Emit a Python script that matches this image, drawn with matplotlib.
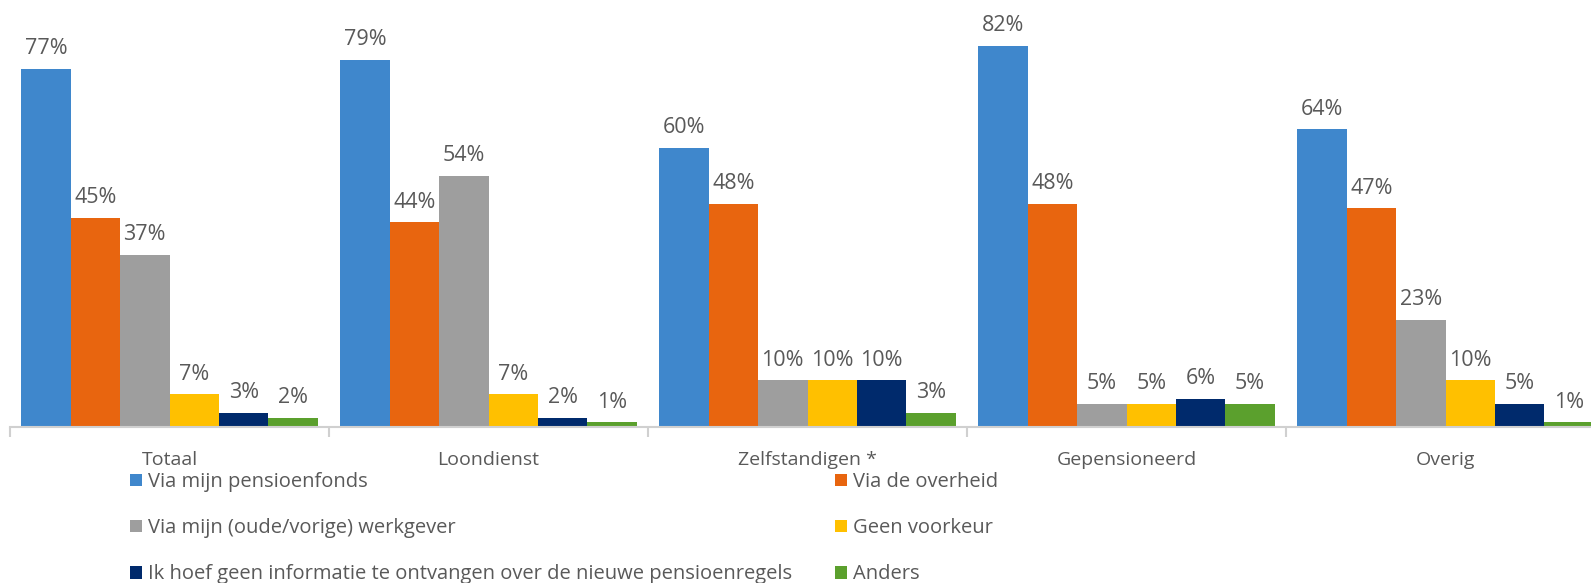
import numpy as np
import matplotlib.pyplot as plt

# Categorieën en reeksen
categorieen = ["Totaal", "Loondienst", "Zelfstandigen *", "Gepensioneerd", "Overig"]
reeksen = [
    "Via mijn pensioenfonds",
    "Via de overheid",
    "Via mijn (oude/vorige) werkgever",
    "Geen voorkeur",
    "Ik hoef geen informatie te ontvangen over de nieuwe pensioenregels",
    "Anders",
]
pensioenfonds = [77, 79, 60, 82, 64]
overheid = [45, 44, 48, 48, 47]
werkgever = [37, 54, 10, 5, 23]
geen_voorkeur = [7, 7, 10, 5, 10]
geen_info = [3, 2, 10, 6, 5]
anders = [2, 1, 3, 5, 1]

waarden = [pensioenfonds, overheid, werkgever, geen_voorkeur, geen_info, anders]
kleuren = ["#3F87CC", "#E8650F", "#9E9E9E", "#FFC000", "#002A6C", "#5BA02D"]

plt.rcParams['font.family'] = ['Open Sans', 'DejaVu Sans']
fig = plt.figure(figsize=(15.91, 5.83), dpi=100)
ax = fig.add_axes([10 / 1591, 156 / 583, 1 - 10 / 1591, 427 / 583])

x = np.arange(len(categorieen))
breedte = 0.155
for i, (vals, kleur, naam) in enumerate(zip(waarden, kleuren, reeksen)):
    pos = x + (i - 2.5) * breedte
    bars = ax.bar(pos, vals, width=breedte, color=kleur, label=naam)
    for b, v in zip(bars, vals):
        ax.annotate(f"{v}%", (b.get_x() + b.get_width() / 2, v),
                    xytext=(0, 7), textcoords="offset points",
                    ha="center", va="bottom", fontsize=15.5, color="#595959")

ax.set_yticks([])
ax.set_xticks(x)
ax.set_xticklabels(categorieen, fontsize=14, color="#595959")
ax.set_xticks(np.arange(-0.5, 5, 1), minor=True)
ax.tick_params(axis="x", which="major", length=0, pad=17)
ax.tick_params(axis="x", which="minor", length=7, color="#D0D0D0", width=1.5)
# grenzen na de ticks, anders worden ze weer opgerekt
ax.set_xlim(-0.5, 4.456)
ax.set_ylim(0, 91.8)
for s in ["top", "right", "left"]:
    ax.spines[s].set_visible(False)
ax.spines["bottom"].set_color("#D0D0D0")
ax.spines["bottom"].set_linewidth(1.5)

handles, labels = ax.get_legend_handles_labels()
volgorde = [0, 2, 4, 1, 3, 5]
fig.legend([handles[i] for i in volgorde], [labels[i] for i in volgorde],
           ncol=2, loc="upper left", bbox_to_anchor=(130 / 1591, 1 - 472 / 583),
           frameon=False, fontsize=14.5, labelcolor="#595959",
           handlelength=0.6, handleheight=0.6, handletextpad=0.3,
           columnspacing=2.1, labelspacing=1.3, borderpad=0, borderaxespad=0)

fig.savefig("out.png", dpi=100)
